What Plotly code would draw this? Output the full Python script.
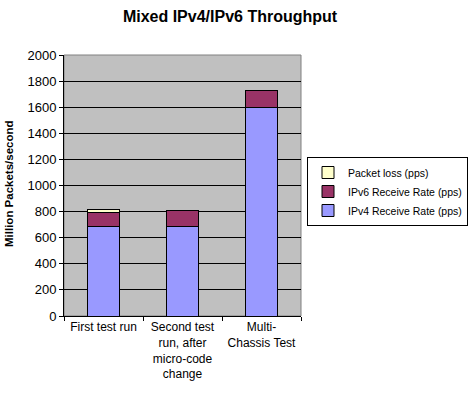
import plotly.graph_objects as go

categories = ["First test run", "Second test<br>run, after<br>micro-code<br>change", "Multi-<br>Chassis Test"]
ipv4 = [685, 685, 1600]
ipv6 = [110, 125, 125]
loss = [20, 0, 0]

fig = go.Figure()
fig.add_trace(go.Bar(x=categories, y=ipv4, name="IPv4 Receive Rate (pps)", legendrank=3,
                     marker=dict(color="#9999ff", line=dict(color="black", width=1))))
fig.add_trace(go.Bar(x=categories, y=ipv6, name="IPv6 Receive Rate (pps)", legendrank=2,
                     marker=dict(color="#993366", line=dict(color="black", width=1))))
fig.add_trace(go.Bar(x=categories, y=loss, name="Packet loss (pps)", legendrank=1,
                     marker=dict(color="#ffffcc", line=dict(color="black", width=1))))

fig.update_layout(
    width=470, height=393,
    barmode="stack", bargap=0.59,
    paper_bgcolor="white", plot_bgcolor="#c0c0c0",
    margin=dict(l=64, r=169, t=55, b=77, autoexpand=False),
    font=dict(family="Liberation Sans, Arial, sans-serif", size=12, color="black"),
    title=dict(text="<b>Mixed IPv4/IPv6 Throughput</b>", x=230/470, xanchor="center",
               y=1-16/393, yanchor="middle", font=dict(size=16)),
    legend=dict(x=(307-64)/237, y=(316-157)/261, xanchor="left", yanchor="top",
                bordercolor="black", borderwidth=1, bgcolor="white",
                traceorder="normal", font=dict(size=10.5),
                itemwidth=30),
    showlegend=True,
)
fig.update_xaxes(showline=True, linecolor="black", linewidth=1, automargin=False,
                 ticks="outside", tickson="boundaries", ticklen=4, tickcolor="black",
                 showgrid=False, tickfont=dict(size=12))
fig.update_yaxes(range=[0, 2000], dtick=200, showline=True, linecolor="black", linewidth=1,
                 automargin=False, ticks="outside", ticklen=4, tickcolor="black",
                 showgrid=True, gridcolor="black", gridwidth=1, zeroline=False,
                 tickfont=dict(size=13))
fig.add_annotation(text="<b>Million Packets/second</b>", textangle=-90, xref="paper", yref="paper",
                   x=-55/237, y=(316-184)/261, xanchor="center", yanchor="middle",
                   showarrow=False, font=dict(size=11.5))
fig.add_shape(type="rect", xref="paper", yref="paper", x0=0, y0=0, x1=1, y1=1,
              line=dict(color="#808080", width=1), layer="below")

fig.write_html("out.html", config={"displayModeBar": False},
               post_script="document.body.style.margin='0';document.body.style.overflow='hidden';")
